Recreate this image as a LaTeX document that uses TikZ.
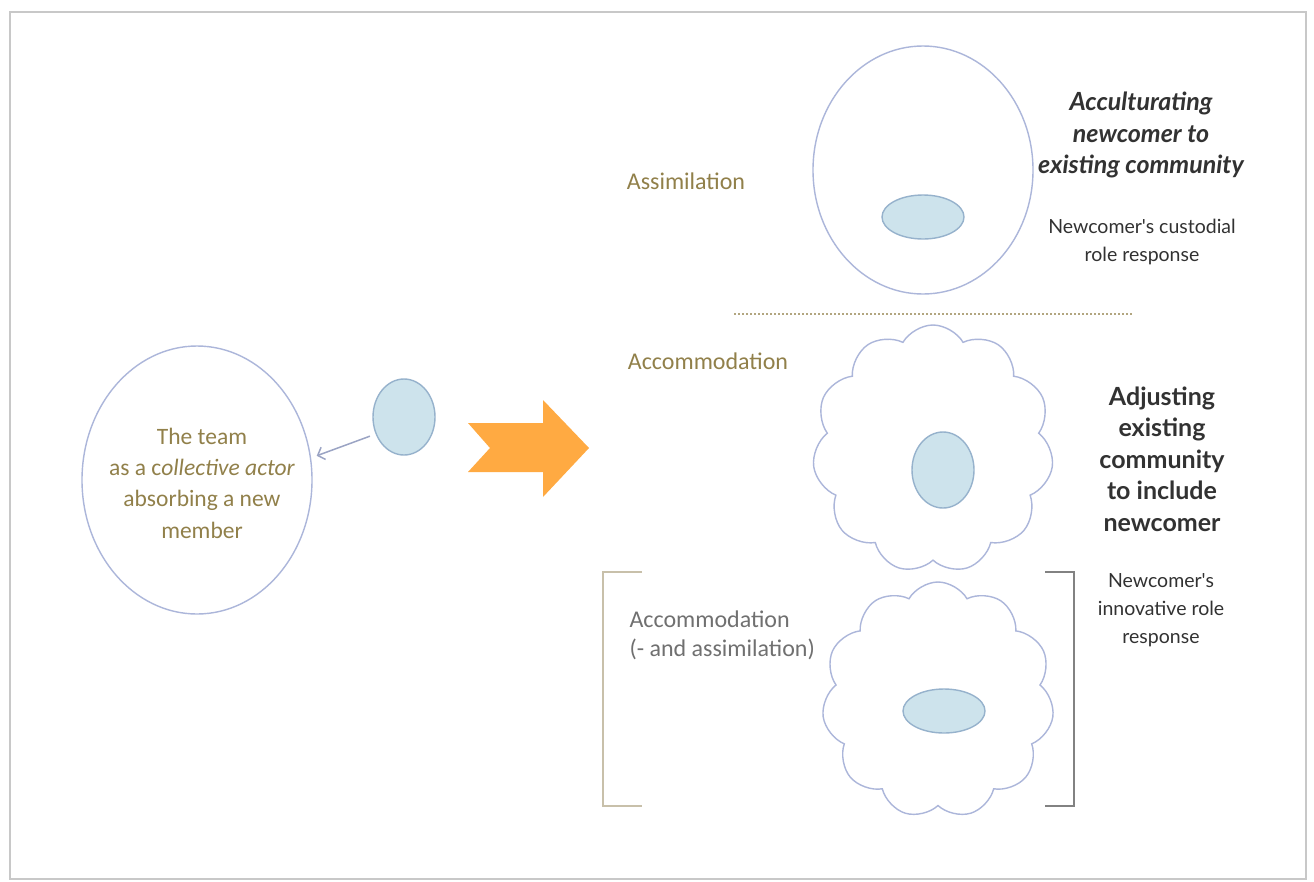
\documentclass[tikz,border=0pt]{standalone}
\usepackage{fontspec}
\setmainfont{Carlito}
\newfontfamily\gill{Lato}
\usetikzlibrary{shapes.symbols,shapes.geometric,arrows.meta}
\definecolor{olivetext}{RGB}{145,128,74}
\definecolor{darktext}{RGB}{50,50,50}
\definecolor{graytext}{RGB}{112,112,112}
\definecolor{ringblue}{RGB}{172,182,218}
\definecolor{cellfill}{RGB}{205,227,236}
\definecolor{celldraw}{RGB}{150,178,204}
\definecolor{orangearrow}{RGB}{255,170,66}
\definecolor{framegray}{RGB}{200,200,200}
\definecolor{brackettan}{RGB}{200,192,170}
\definecolor{bracketgray}{RGB}{130,130,130}
\begin{document}
\begin{tikzpicture}[x=1pt,y=-1pt,
  ring/.style={ellipse,draw=ringblue,line width=1.4pt,inner sep=0pt},
  puff/.style={cloud,cloud puffs=11,cloud puff arc=120,cloud ignores aspect,draw=ringblue,line width=1.4pt,inner sep=0pt},
  cell/.style={ellipse,draw=celldraw,fill=cellfill,line width=1.4pt,inner sep=0pt},
  lab/.style={text=olivetext,font=\fontsize{24}{29}\selectfont},
  headline/.style={text=darktext,align=center,font=\gill\bfseries\fontsize{25}{31.5}\selectfont},
  note/.style={text=darktext,align=center,font=\gill\fontsize{19.5}{28}\selectfont},
  brk/.style={line width=1.8pt}]
\useasboundingbox (0,0) rectangle (1314,881);
\fill[white] (0,0) rectangle (1314,881);
\draw[framegray,line width=1.5pt] (10,12) rectangle (1306,879);

% left part
\node[ring,minimum width=230pt,minimum height=268pt] (team) at (197,480) {};
\node[align=center,text=olivetext,font=\fontsize{23.5}{31.3}\selectfont] (teamtext) at (202,483)
      {The team\\as a c\textit{ollective actor}\\absorbing a new\\member};
\node[cell,minimum width=62pt,minimum height=76pt] (newc) at (404,417) {};
\draw[ringblue!90!black,line width=1.5pt,-{Straight Barb[length=6pt,width=13pt]},
      shorten <=6pt,shorten >=6pt] (newc.211) -- (team.11);

% orange arrow
\fill[orangearrow] (468,423) -- (543,423) -- (543,400) -- (589,448) -- (543,497)
  -- (543,472) -- (468,472) -- (490,448) -- cycle;

% assimilation
\node[lab] (assim) at (686,181) {Assimilation};
\node[ring,minimum width=220pt,minimum height=248pt] (assring) at (923,170) {};
\node[cell,minimum width=82pt,minimum height=44pt] (asscell) at (923,217) {};
\node[headline,font=\gill\bfseries\itshape\fontsize{25}{31.5}\selectfont] (accult) at (1141,135)
  {Acculturating\\newcomer to\\existing community};
\node[note] (custodial) at (1142,242) {Newcomer's custodial\\role response};

\draw[olivetext!70,dotted,line width=2pt] (734,314) -- (1133,314);

% accommodation
\node[lab] (accom) at (708,361) {Accommodation};
\node[puff,minimum width=241pt,minimum height=248pt] (cloudA) at (933,449) {};
\node[cell,minimum width=62pt,minimum height=76pt] (cellA) at (943,470) {};
\node[headline] (adjust) at (1162,459) {Adjusting\\existing\\community\\to include\\newcomer};
\node[note] (innov) at (1161,610) {Newcomer's\\innovative role\\response};

% accommodation and assimilation
\draw[brackettan,brk] (642,572) -- (603,572) -- (603,806) -- (642,806);
\draw[bracketgray,brk] (1045,572) -- (1074,572) -- (1074,806) -- (1045,806);
\node[lab,text=graytext,align=left,anchor=west] (accas) at (626,635)
  {Accommodation\\(- and assimilation)};
\node[puff,minimum width=232pt,minimum height=236pt] (cloudB) at (938,700) {};
\node[cell,minimum width=82pt,minimum height=44pt] (cellB) at (944,711) {};
\end{tikzpicture}
\end{document}
